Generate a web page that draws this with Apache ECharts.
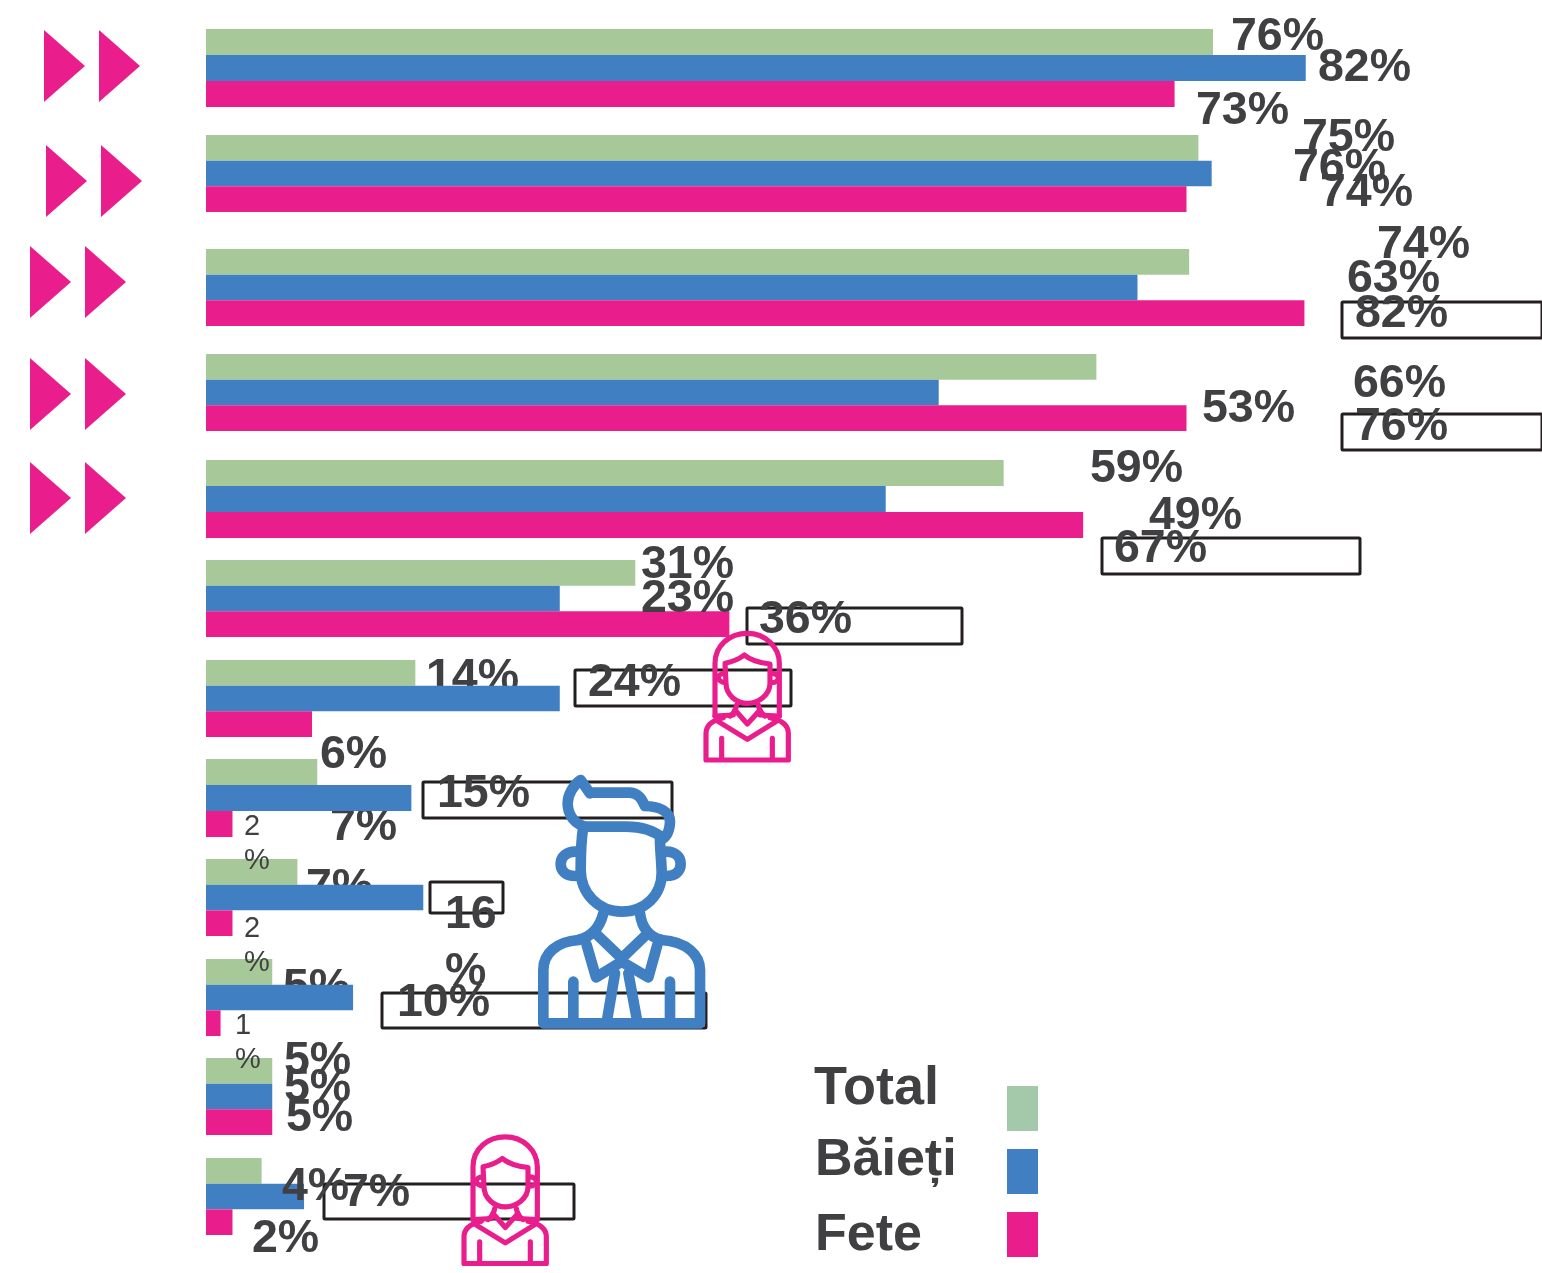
<!DOCTYPE html>
<html>
<head>
<meta charset="utf-8">
<title>Total, Băieți, Fete</title>
<script src="https://cdn.jsdelivr.net/npm/echarts@6/dist/echarts.min.js"></script>
<style>
  html, body { margin: 0; padding: 0; background: #fff; }
  #main { width: 1542px; height: 1273px; }
</style>
</head>
<body>
<div id="main"></div>
<script>
// lungimea barelor
const rows = ['1', '2', '3', '4', '5', '6', '7', '8', '9', '10', '11', '12'];
const barsTotal = [76, 74.9, 74.2, 67.2, 60.2, 32.4, 15.8, 8.4, 6.9, 5, 5, 4.2];
const barsBaieti = [83, 75.9, 70.3, 55.3, 51.3, 26.7, 26.7, 15.5, 16.4, 11.1, 5, 7.4];
const barsFete = [73.1, 74, 82.9, 74, 66.2, 39.5, 8, 2, 2, 1.1, 5, 2];

// etichetele, asa cum sunt scrise pe grafic (nu se potrivesc mereu cu barele)
const labelsTotal = ['76%', '75%', '74%', '66%', '59%', '31%', '14%', '7%', '7%', '5%', '5%', '4%'];
const labelsBaieti = ['82%', '76%', '63%', '53%', '49%', '23%', '24%', '15%', '16\n%', '10%', '5%', '7%'];
const labelsFete = ['73%', '74%', '82%', '76%', '67%', '36%', '6%', '2\n%', '2\n%', '1\n%', '5%', '2%'];
const seriesNames = ['Total', 'Băieți', 'Fete'];

// pozitii
const rowTops = [29, 135, 249, 354, 460, 560, 660, 759, 859, 959, 1058, 1158];
const rowHeights = [78, 77, 77, 77, 78, 77, 77, 78, 77, 77, 77, 77];
const posTotal = [[1231, 34], [1302, 135], [1377, 242], [1353, 381], [1090, 466], [641, 562], [426, 675], [330, 824], [306, 885], [283, 985], [284, 1058], [282, 1184]];
const posBaieti = [[1318, 65], [1293, 165], [1347, 276], [1202, 406], [1149, 513], [641, 596], [588, 680], [437, 791], [445, 940], [397, 1000], [284, 1085], [343, 1190]];
const posFete = [[1196, 108], [1320, 190], [1355, 311], [1355, 424], [1114, 546], [759, 617], [320, 752], [244, 840], [244, 942], [235, 1039], [286, 1115], [252, 1236]];
const labelShift = 3.5;
const boxes = [[1342, 302, 200, 36], [1342, 414, 200, 36], [1102, 538, 258, 36], [747, 608, 215, 36], [575, 670, 216, 36], [423, 782, 249, 36], [430, 882, 73, 31], [382, 993, 324, 35], [324, 1184, 250, 35]];
const arrows = [[44, 30], [46, 145], [30, 246], [30, 358], [30, 462]];
// etichete acoperite de bare: [seria, randul]
const hidden = [[0, 6], [0, 7], [0, 8], [0, 9]];

const GREEN = '#a7c99a', BLUE = '#4080c2', PINK = '#e91e8c', GREY = '#404042', LINE = '#231f20';
const seriesColors = [GREEN, BLUE, PINK];

const chart = echarts.init(document.getElementById('main'));

const grids = [], xAxes = [], yAxes = [], series = [];
rows.forEach((row, i) => {
  grids.push({ left: 206, top: rowTops[i], width: 1325, height: rowHeights[i] });
  xAxes.push({ type: 'value', gridIndex: i, min: 0, max: 100, show: false });
  yAxes.push({ type: 'category', gridIndex: i, data: [row], inverse: true, show: false });
  [barsTotal, barsBaieti, barsFete].forEach((values, s) => {
    series.push({
      type: 'bar',
      name: seriesNames[s],
      xAxisIndex: i,
      yAxisIndex: i,
      data: [values[i]],
      barGap: 0,
      barCategoryGap: 0,
      itemStyle: { color: seriesColors[s] },
      silent: true
    });
  });
});

const elements = [];

// cutiile goale
boxes.forEach(b => {
  elements.push({
    type: 'rect', z: 1,
    shape: { x: b[0], y: b[1], width: b[2], height: b[3], r: 1 },
    style: { fill: 'transparent', stroke: LINE, lineWidth: 3 }
  });
});

// etichete
function addLabels(labels, pos, s) {
  labels.forEach((text, i) => {
    const under = hidden.some(h => h[0] === s && h[1] === i);
    const small = text === '2\n%' || text === '1\n%';
    elements.push({
      type: 'text',
      z: under ? 0 : 10,
      x: pos[i][0],
      y: pos[i][1] + labelShift,
      style: {
        text: text,
        fill: GREY,
        font: (small ? '' : 'bold ') + (small ? 29 : 46.5) + 'px "Liberation Sans", Arial, sans-serif',
        lineHeight: small ? 34 : (text.indexOf('\n') > 0 ? 57 : 46),
        align: 'left',
        verticalAlign: 'middle'
      }
    });
  });
}
addLabels(labelsTotal, posTotal, 0);
addLabels(labelsBaieti, posBaieti, 1);
addLabels(labelsFete, posFete, 2);

// sagetile din stanga
arrows.forEach(a => {
  [0, 55].forEach(dx => {
    elements.push({
      type: 'polygon', z: 3,
      shape: { points: [[a[0] + dx, a[1]], [a[0] + dx + 41, a[1] + 36], [a[0] + dx, a[1] + 72]] },
      style: { fill: PINK }
    });
  });
});

// legenda
const legendText = [[814, 1089], [815, 1161], [815, 1236]];
const legendSizes = [54, 52, 52];
const legendRects = [[1007, 1086, '#a3c9aa'], [1007, 1149, BLUE], [1007, 1212, PINK]];
seriesNames.forEach((name, i) => {
  elements.push({
    type: 'text', z: 10, x: legendText[i][0], y: legendText[i][1],
    style: { text: name, fill: GREY, font: 'bold ' + legendSizes[i] + 'px "Liberation Sans", Arial, sans-serif', align: 'left', verticalAlign: 'middle' }
  });
  elements.push({
    type: 'rect', z: 3,
    shape: { x: legendRects[i][0], y: legendRects[i][1], width: 31, height: 45 },
    style: { fill: legendRects[i][2] }
  });
});

// pictogramele, desenate in coordonate de 3x
const girlPaths = [
  'M75 288 V130 C75 75 120 40 172 40 C225 40 268 80 268 130 V288',
  'M75 288 L130 285 M210 285 L268 288',
  'M105 130 C130 125 150 115 163 105 C178 118 205 128 240 132 V190 C240 225 205 250 172 250 C140 250 108 225 108 190 Z',
  'M105 160 C90 160 85 168 85 173 C85 180 95 188 105 188',
  'M245 160 C258 160 265 168 265 173 C265 180 258 188 245 188',
  'M140 255 C138 268 132 280 120 288 M205 255 C207 268 213 280 225 288',
  'M135 270 L172 312 L210 270',
  'M48 420 V340 C48 315 70 300 100 293 M48 420 H295 V340 C295 315 275 300 240 293',
  'M85 305 L172 358 L258 305',
  'M95 355 V415 M247 355 V415'
];
const boyPaths = [
  'M210 70 L182 30 C160 45 143 75 143 100 C143 135 165 165 200 170 H320 C370 170 405 185 430 205 C445 195 450 170 450 155 C450 125 420 110 375 108 C365 85 355 70 330 68 H210 Z',
  'M190 170 C185 200 182 240 182 300 C182 370 235 425 305 425 C375 425 425 375 425 310 C425 280 420 240 420 210',
  'M182 245 H165 C140 245 122 260 122 282 C122 305 140 318 165 318 H182',
  'M430 245 H440 C465 245 482 260 482 282 C482 305 465 318 440 318 H430',
  'M250 430 C240 470 215 500 175 510 M360 430 C365 470 385 500 425 510',
  'M70 760 V600 C70 550 110 515 175 510 M540 760 V600 C540 555 500 515 425 510 M70 760 H540',
  'M232 495 L305 565 L378 495',
  'M200 525 L228 622 L305 575 L385 622 L412 525',
  'M285 610 L262 745 M325 610 L350 745',
  'M160 635 V745 M450 635 V745'
];
const icons = [
  { paths: girlPaths, x: 690, y: 620, color: PINK, width: 15.5 },
  { paths: girlPaths, x: 448, y: 1123.5, color: PINK, width: 15.5 },
  { paths: boyPaths, x: 520, y: 770, color: BLUE, width: 32 }
];
series.push({
  type: 'custom',
  coordinateSystem: 'none',
  z: 20,
  silent: true,
  data: [0],
  renderItem: function () {
    return {
      type: 'group',
      children: icons.map(icon => ({
        type: 'group',
        x: icon.x,
        y: icon.y,
        scaleX: 1 / 3,
        scaleY: 1 / 3,
        children: icon.paths.map(d => ({
          type: 'path',
          shape: { pathData: d },
          style: { fill: 'none', stroke: icon.color, lineWidth: icon.width, lineJoin: 'round', lineCap: 'round' }
        }))
      }))
    };
  }
});

chart.setOption({
  animation: false,
  grid: grids,
  xAxis: xAxes,
  yAxis: yAxes,
  series: series,
  graphic: { elements: elements }
});
</script>
</body>
</html>
